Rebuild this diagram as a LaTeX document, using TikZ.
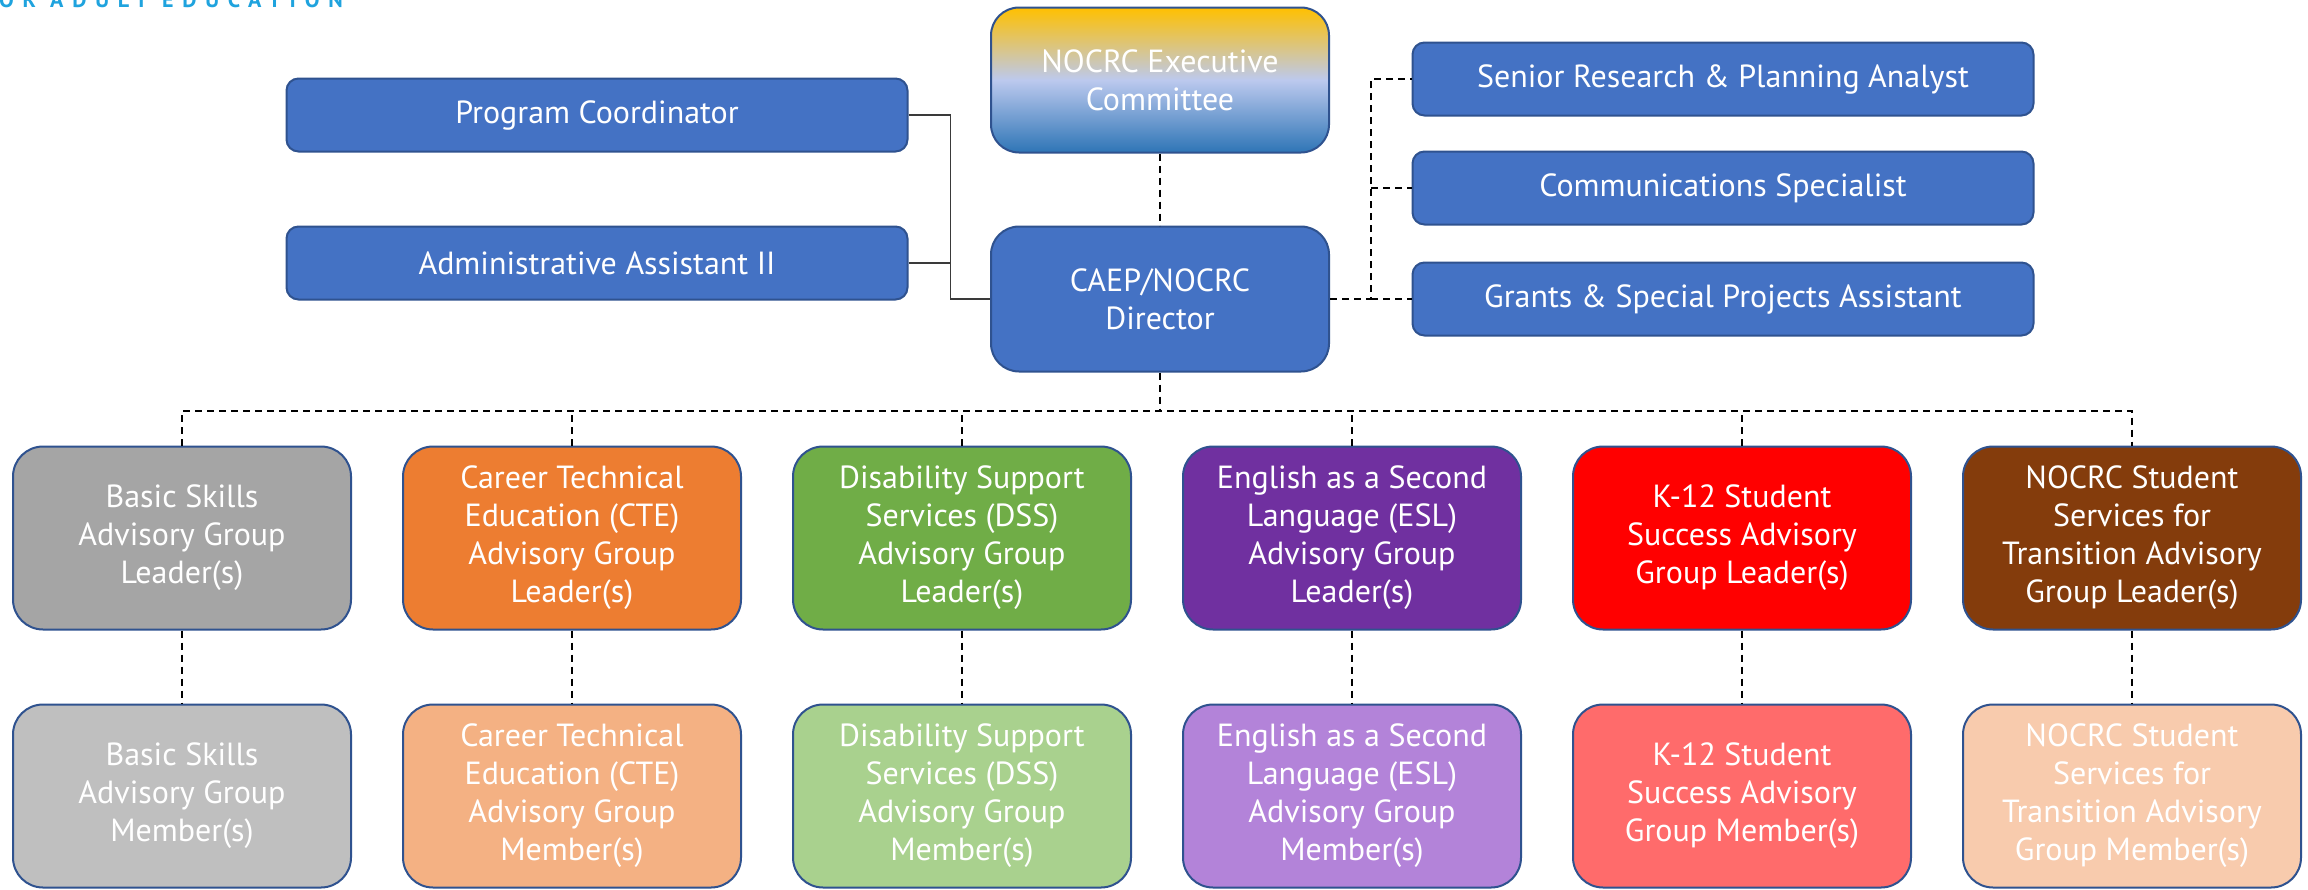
\documentclass[tikz,border=0pt]{standalone}
\usepackage{fontspec}
\setmainfont{PT Sans}
\newfontfamily\tagfont[LetterSpace=40]{PT Sans}
\usepackage{tikz}
\usetikzlibrary{positioning}

\definecolor{staffblue}{HTML}{4472C4}
\definecolor{boxedge}{HTML}{2F528F}
\definecolor{linegray}{HTML}{3A3A3A}
\definecolor{execgold}{HTML}{FFC000}
\definecolor{execlav}{HTML}{BCC9EE}
\definecolor{execblue}{HTML}{2E75B6}
\definecolor{tagcyan}{HTML}{1FA3DE}
% leader colours
\definecolor{basicL}{HTML}{A5A5A5}
\definecolor{cteL}{HTML}{ED7D31}
\definecolor{dssL}{HTML}{70AD47}
\definecolor{eslL}{HTML}{7030A0}
\definecolor{kL}{HTML}{FF0000}
\definecolor{transL}{HTML}{843C0C}
% member colours
\definecolor{basicM}{HTML}{BFBFBF}
\definecolor{cteM}{HTML}{F4B183}
\definecolor{dssM}{HTML}{A9D18E}
\definecolor{eslM}{HTML}{B383D9}
\definecolor{kM}{HTML}{FF6B6B}
\definecolor{transM}{HTML}{F8CBAD}

\tikzset{
	unit/.style={draw=boxedge,line width=2pt,text=white,align=center,inner sep=0pt,
		font=\fontsize{32}{38}\selectfont},
	staffbox/.style={unit,fill=staffblue,rounded corners=12pt,minimum width=621pt,minimum height=73pt},
	headbox/.style={unit,rounded corners=28pt,minimum width=338pt,minimum height=145pt},
	groupbox/.style={unit,fill=#1,rounded corners=30pt,minimum width=338pt,minimum height=183pt},
	dashlink/.style={dash pattern=on 7pt off 5pt,line width=2pt},
	solidlink/.style={line width=1.5pt,draw=linegray}
}

\begin{document}
\begin{tikzpicture}[x=1pt,y=-1pt]
	\useasboundingbox[fill=white] (0,0) rectangle (2308,889);
	
	\node[anchor=base east,inner sep=0pt,text=tagcyan,font=\tagfont\bfseries\fontsize{22}{22}\selectfont] (tag) at (343,7) {FOR ADULT EDUCATION};
	
	\node[headbox,top color=execgold,bottom color=execblue,middle color=execlav] (exec) at (1160,80) {NOCRC Executive\\Committee};
	\node[headbox,fill=staffblue] (dir) at (1160,299) {CAEP/NOCRC\\Director};
	
	\node[staffbox] (prog) at (597,115) {Program Coordinator};
	\node[staffbox] (admin) at (597,263) {Administrative Assistant  II};
	
	\node[staffbox] (senior) at (1723,79) {Senior Research \& Planning Analyst};
	\node[staffbox] (comm) at (1723,188) {Communications Specialist};
	\node[staffbox] (grants) at (1723,299) {Grants \& Special Projects Assistant};
	
	\node[groupbox=basicL] (lead1) at (182,538) {Basic Skills\\Advisory Group\\Leader(s)};
	\node[groupbox=cteL] (lead2) at (572,538) {Career Technical\\Education (CTE)\\Advisory Group\\Leader(s)};
	\node[groupbox=dssL] (lead3) at (962,538) {Disability Support\\Services (DSS)\\Advisory Group\\Leader(s)};
	\node[groupbox=eslL] (lead4) at (1352,538) {English as a Second\\Language  (ESL)\\Advisory Group\\Leader(s)};
	\node[groupbox=kL] (lead5) at (1742,538) {K-12 Student\\Success Advisory\\Group Leader(s)};
	\node[groupbox=transL] (lead6) at (2132,538) {NOCRC Student\\Services for\\Transition Advisory\\Group Leader(s)};
	
	\node[groupbox=basicM] (mem1) at (182,796) {Basic Skills\\Advisory Group\\Member(s)};
	\node[groupbox=cteM] (mem2) at (572,796) {Career Technical\\Education (CTE)\\Advisory Group\\Member(s)};
	\node[groupbox=dssM] (mem3) at (962,796) {Disability Support\\Services (DSS)\\Advisory Group\\Member(s)};
	\node[groupbox=eslM] (mem4) at (1352,796) {English as a Second\\Language  (ESL)\\Advisory Group\\Member(s)};
	\node[groupbox=kM] (mem5) at (1742,796) {K-12 Student\\Success Advisory\\Group Member(s)};
	\node[groupbox=transM] (mem6) at (2132,796) {NOCRC Student\\Services for\\Transition Advisory\\Group Member(s)};
	
	% staff on the left
	\draw[solidlink] (prog.east)--++(42,0)|-(dir.west);
	\draw[solidlink] (admin.east)--++(42,0);
	
	% staff on the right
	\draw[dashlink] (exec)--(dir);
	\draw[dashlink] (dir.east)--++(41,0) coordinate(jr) |-(senior.west);
	\draw[dashlink] (jr|-comm.west)--(comm.west);
	\draw[dashlink] (jr)--(grants.west);
	
	% advisory groups
	\draw[dashlink] (dir.south)--++(0,38) coordinate(bus);
	\draw[dashlink] (lead1.north)|-(bus)-|(lead6.north);
	\draw[dashlink] (lead2.north)--(lead2.north|-bus);
	\draw[dashlink] (lead3.north)--(lead3.north|-bus);
	\draw[dashlink] (lead4.north)--(lead4.north|-bus);
	\draw[dashlink] (lead5.north)--(lead5.north|-bus);
	
	\draw[dashlink] (lead1)--(mem1);
	\draw[dashlink] (lead2)--(mem2);
	\draw[dashlink] (lead3)--(mem3);
	\draw[dashlink] (lead4)--(mem4);
	\draw[dashlink] (lead5)--(mem5);
	\draw[dashlink] (lead6)--(mem6);
\end{tikzpicture}
\end{document}
